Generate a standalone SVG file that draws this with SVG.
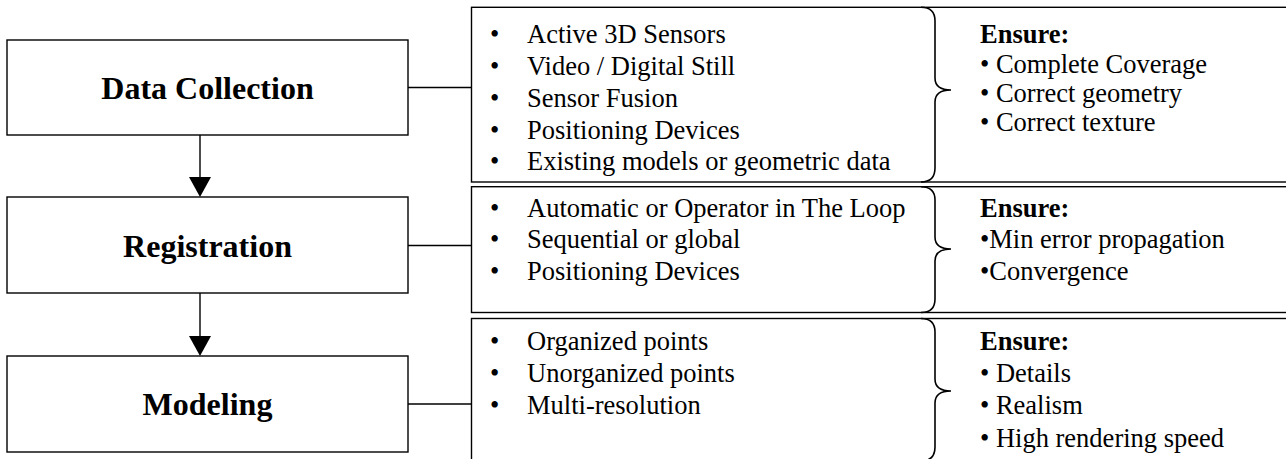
<svg xmlns="http://www.w3.org/2000/svg" width="1286" height="459" viewBox="0 0 1286 459">
<style>
.box{fill:#fff;stroke:#000;stroke-width:1.4}
.panel{fill:none;stroke:#000;stroke-width:1.4}
.brace{fill:none;stroke:#000;stroke-width:1.6}
.title{font-family:"Liberation Serif","Times New Roman",serif;font-weight:bold;font-size:32px;text-anchor:middle;fill:#000}
.t{font-family:"Liberation Serif","Times New Roman",serif;font-size:26.5px;fill:#000}
.b{font-weight:bold}
.conn{stroke:#000;stroke-width:1.4;fill:none}
.head{fill:#000}
</style>
<rect width="1286" height="459" fill="#fff"/>
<g id="connectors">
<line class="conn" x1="200" y1="135" x2="200" y2="177"/>
<polygon class="head" points="189,177 211,177 200,197"/>
<line class="conn" x1="200" y1="293" x2="200" y2="336"/>
<polygon class="head" points="189,336 211,336 200,356"/>
<line class="conn" x1="408" y1="87.5" x2="471.5" y2="87.5"/>
<line class="conn" x1="408" y1="245.5" x2="471.5" y2="245.5"/>
<line class="conn" x1="408" y1="404" x2="471.5" y2="404"/>
</g>
<g id="data-collection">
<rect class="box" x="7" y="40" width="401" height="95"/>
<text class="title" x="207.5" y="99">Data Collection</text>
</g>
<g id="registration">
<rect class="box" x="7" y="197" width="401" height="96"/>
<text class="title" x="207.5" y="256.5">Registration</text>
</g>
<g id="modeling">
<rect class="box" x="7" y="356" width="401" height="96"/>
<text class="title" x="207.5" y="415">Modeling</text>
</g>
<g id="panel-data-collection">
<rect class="panel" x="471.5" y="7.3" width="830" height="174.7"/>
<path class="brace" d="M921,7.3 Q935,7.3 935,21 L935,78 Q935,90 951,90 Q935,90 935,102 L935,168 Q935,182 921,182"/>
<g class="t">
<text x="490" y="43.3">•</text><text x="527" y="43.3">Active 3D Sensors</text>
<text x="490" y="75">•</text><text x="527" y="75">Video / Digital Still</text>
<text x="490" y="106.7">•</text><text x="527" y="106.7">Sensor Fusion</text>
<text x="490" y="138.5">•</text><text x="527" y="138.5">Positioning Devices</text>
<text x="490" y="170.3">•</text><text x="527" y="170.3">Existing models or geometric data</text>
<text x="980" y="43" class="b">Ensure:</text>
<text x="980" y="73">• Complete Coverage</text>
<text x="980" y="101.7">• Correct geometry</text>
<text x="980" y="130.5">• Correct texture</text>
</g>
</g>
<g id="panel-registration">
<rect class="panel" x="471.5" y="186.7" width="830" height="125.8"/>
<path class="brace" d="M921,186.7 Q935,186.7 935,200 L935,237 Q935,249 951,249 Q935,249 935,261 L935,299 Q935,312.5 921,312.5"/>
<g class="t">
<text x="490" y="216.7">•</text><text x="527" y="216.7">Automatic or Operator in The Loop</text>
<text x="490" y="248.3">•</text><text x="527" y="248.3">Sequential or global</text>
<text x="490" y="280">•</text><text x="527" y="280">Positioning Devices</text>
<text x="980" y="216.7" class="b">Ensure:</text>
<text x="980" y="248.3">•Min error propagation</text>
<text x="980" y="280">•Convergence</text>
</g>
</g>
<g id="panel-modeling">
<rect class="panel" x="471.5" y="318.5" width="830" height="143"/>
<path class="brace" d="M921,318.5 Q935,318.5 935,332 L935,379 Q935,391 951,391 Q935,391 935,403 L935,447 Q935,461 921,461"/>
<g class="t">
<text x="490" y="350">•</text><text x="527" y="350">Organized points</text>
<text x="490" y="381.7">•</text><text x="527" y="381.7">Unorganized points</text>
<text x="490" y="414">•</text><text x="527" y="414">Multi-resolution</text>
<text x="980" y="350" class="b">Ensure:</text>
<text x="980" y="381.7">• Details</text>
<text x="980" y="414">• Realism</text>
<text x="980" y="446.5">• High rendering speed</text>
</g>
</g>
</svg>
